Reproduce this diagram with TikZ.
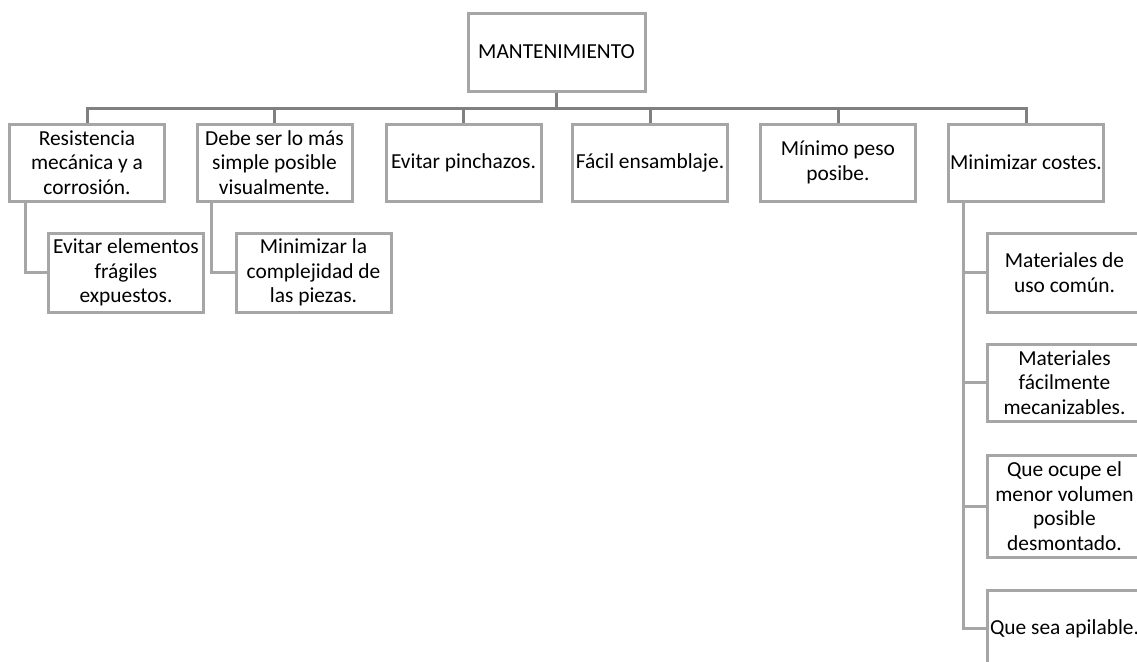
\documentclass[tikz,border=0pt]{standalone}
\usepackage{fontspec}
\setmainfont{Carlito}
\usepackage{tikz}
\usetikzlibrary{positioning}

\begin{document}
\begin{tikzpicture}[x=0.5pt, y=-0.5pt,
    box/.style={draw=gray!70, line width=1.5pt, inner sep=0pt, align=center,
        minimum width=77.5pt, minimum height=38.5pt,
        font=\fontsize{10.7}{12.25}\selectfont},
    bus/.style={draw=gray!100, line width=1.5pt},
    sub/.style={draw=gray!70, line width=1.5pt}]
    \clip (0, 0) rectangle (1137, 661);
    \node[box, minimum width=88.5pt, minimum height=39pt] (mant) at (556.5, 52) {MANTENIMIENTO};
    \node[box] (resist) at (87, 162.5) {Resistencia\\mecánica y a\\corrosión.};
    \node[box] (simple) at (274.5, 162.5) {Debe ser lo más\\simple posible\\visualmente.};
    \node[box] (pinch) at (463.5, 162.5) {Evitar pinchazos.};
    \node[box] (ensam) at (650, 162.5) {Fácil ensamblaje.};
    \node[box] (peso) at (838, 162.5) {Mínimo peso\\posibe.};
    \node[box] (costes) at (1026, 162.5) {Minimizar costes.};
    \node[box, minimum height=39.5pt] (fragil) at (126, 272.5) {Evitar elementos\\frágiles\\expuestos.};
    \node[box, minimum height=39.5pt] (complej) at (313.5, 272.5) {Minimizar la\\complejidad de\\las piezas.};
    \node[box, minimum height=39.5pt] (comun) at (1064.5, 272.5) {Materiales de\\uso común.};
    \node[box] (mecan) at (1064.5, 382.5) {Materiales\\fácilmente\\mecanizables.};
    \node[box, minimum height=51pt] (volumen) at (1064.5, 506) {Que ocupe el\\menor volumen\\posible\\desmontado.};
    \node[box] (apilable) at (1064.5, 628.5) {Que sea apilable.};
    \draw[bus] (mant.south) -- ++(0, 16) coordinate (tee);
    \foreach \n in {resist, simple, pinch, ensam, peso, costes}
        \draw[bus] (\n.north) |- (tee);
    \draw[sub] ([xshift=8.5pt]resist.south west) |- (fragil.west);
    \draw[sub] ([xshift=8pt]simple.south west) |- (complej.west);
    \foreach \n in {comun, mecan, volumen, apilable}
        \draw[sub] ([xshift=8pt]costes.south west) |- (\n.west);
\end{tikzpicture}
\end{document}
